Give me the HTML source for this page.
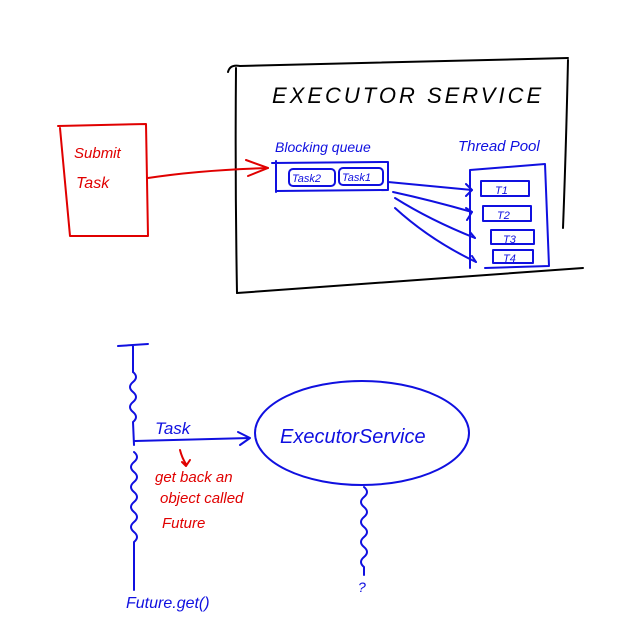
<!DOCTYPE html>
<html><head><style>
html,body{margin:0;padding:0;background:#fff;}
svg{display:block}
text{font-family:"Liberation Sans",sans-serif;font-style:italic;}
</style></head><body>
<svg width="633" height="634" viewBox="0 0 633 634" xmlns="http://www.w3.org/2000/svg" fill="none" stroke-linecap="round" stroke-linejoin="round">
<!-- black box -->
<g stroke="#000" stroke-width="2">
<path d="M228 72 Q230 64 240 66 L568 58"/>
<path d="M236 68 Q235 180 237 293"/>
<path d="M568 60 Q566 150 563 228"/>
<path d="M237 293 L583 268"/>
</g>
<text x="272" y="103" font-size="22" fill="#000" font-style="normal" letter-spacing="3" style="font-weight:normal">EXECUTOR SERVICE</text>
<!-- red -->
<g stroke="#e00000" stroke-width="2">
<path d="M58 126 L146 124 L148 236 L70 236 L60 128"/>
<path d="M148 178 Q200 170 268 168"/>
<path d="M246 160 L268 168 L248 176"/>
</g>
<text x="74" y="158" font-size="15" fill="#e00000">Submit</text>
<text x="76" y="188" font-size="16" fill="#e00000">Task</text>
<!-- blue top -->
<g stroke="#1010e0" stroke-width="2">
<path d="M272 163 L388 162 L388 190 L276 191 M276 161 L276 192"/>
<rect x="289" y="169" width="46" height="17" rx="4"/>
<rect x="339" y="168" width="44" height="17" rx="4"/>
<path d="M470 170 L545 164 L549 266 L485 268 M470 170 L470 268"/>
<rect x="481" y="181" width="48" height="15"/>
<rect x="483" y="206" width="48" height="15"/>
<rect x="491" y="230" width="43" height="14"/>
<rect x="493" y="250" width="40" height="13"/>
<path d="M388 182 L472 190"/>
<path d="M393 192 Q430 200 472 212"/>
<path d="M395 198 Q430 220 475 238"/>
<path d="M395 208 Q430 240 476 262"/>
<path d="M466 184 L472 190 L466 196 M466 208 L472 212 L467 220 M470 232 L475 238 M472 256 L476 262"/>
</g>
<text x="275" y="152" font-size="14" fill="#1010e0">Blocking queue</text>
<text x="458" y="151" font-size="15" fill="#1010e0">Thread Pool</text>
<text x="292" y="182" font-size="11" fill="#1010e0">Task2</text>
<text x="342" y="181" font-size="11" fill="#1010e0">Task1</text>
<text x="495" y="194" font-size="11" fill="#1010e0">T1</text>
<text x="497" y="219" font-size="11" fill="#1010e0">T2</text>
<text x="503" y="243" font-size="11" fill="#1010e0">T3</text>
<text x="503" y="262" font-size="11" fill="#1010e0">T4</text>
<!-- bottom -->
<g stroke="#1010e0" stroke-width="2">
<path d="M118 346 L148 344 M133 346 L133 372"/>
<path d="M133 372 q6 5 0 10 q-6 5 0 10 q6 5 0 10 q-6 5 0 10 q6 5 0 10 L134 445"/>
<path d="M134 452 q6 5 0 10 q-6 5 0 10 q6 5 0 10 q-6 5 0 10 q6 5 0 10 q-6 5 0 10 q6 5 0 10 q-6 5 0 10 q6 5 0 10 L134 590"/>
<path d="M135 441 L250 438 M238 432 L250 438 L240 445"/>
<ellipse cx="362" cy="433" rx="107" ry="52"/>
<path d="M364 487 q6 5 0 10 q-6 5 0 10 q6 5 0 10 q-6 5 0 10 q6 5 0 10 q-6 5 0 10 q6 5 0 10 q-6 5 0 10 L364 575"/>
</g>
<text x="155" y="434" font-size="17" fill="#1010e0">Task</text>
<text x="280" y="443" font-size="20" fill="#1010e0">ExecutorService</text>
<text x="358" y="592" font-size="14" fill="#1010e0">?</text>
<text x="126" y="608" font-size="16" fill="#1010e0">Future.get()</text>
<g stroke="#e00000" stroke-width="2"><path d="M180 450 q2 8 6 14 M182 462 L186 466 L190 460"/></g>
<text x="155" y="482" font-size="15" fill="#e00000">get back an</text>
<text x="160" y="503" font-size="15" fill="#e00000">object called</text>
<text x="162" y="528" font-size="15" fill="#e00000">Future</text>
</svg>
</body></html>
